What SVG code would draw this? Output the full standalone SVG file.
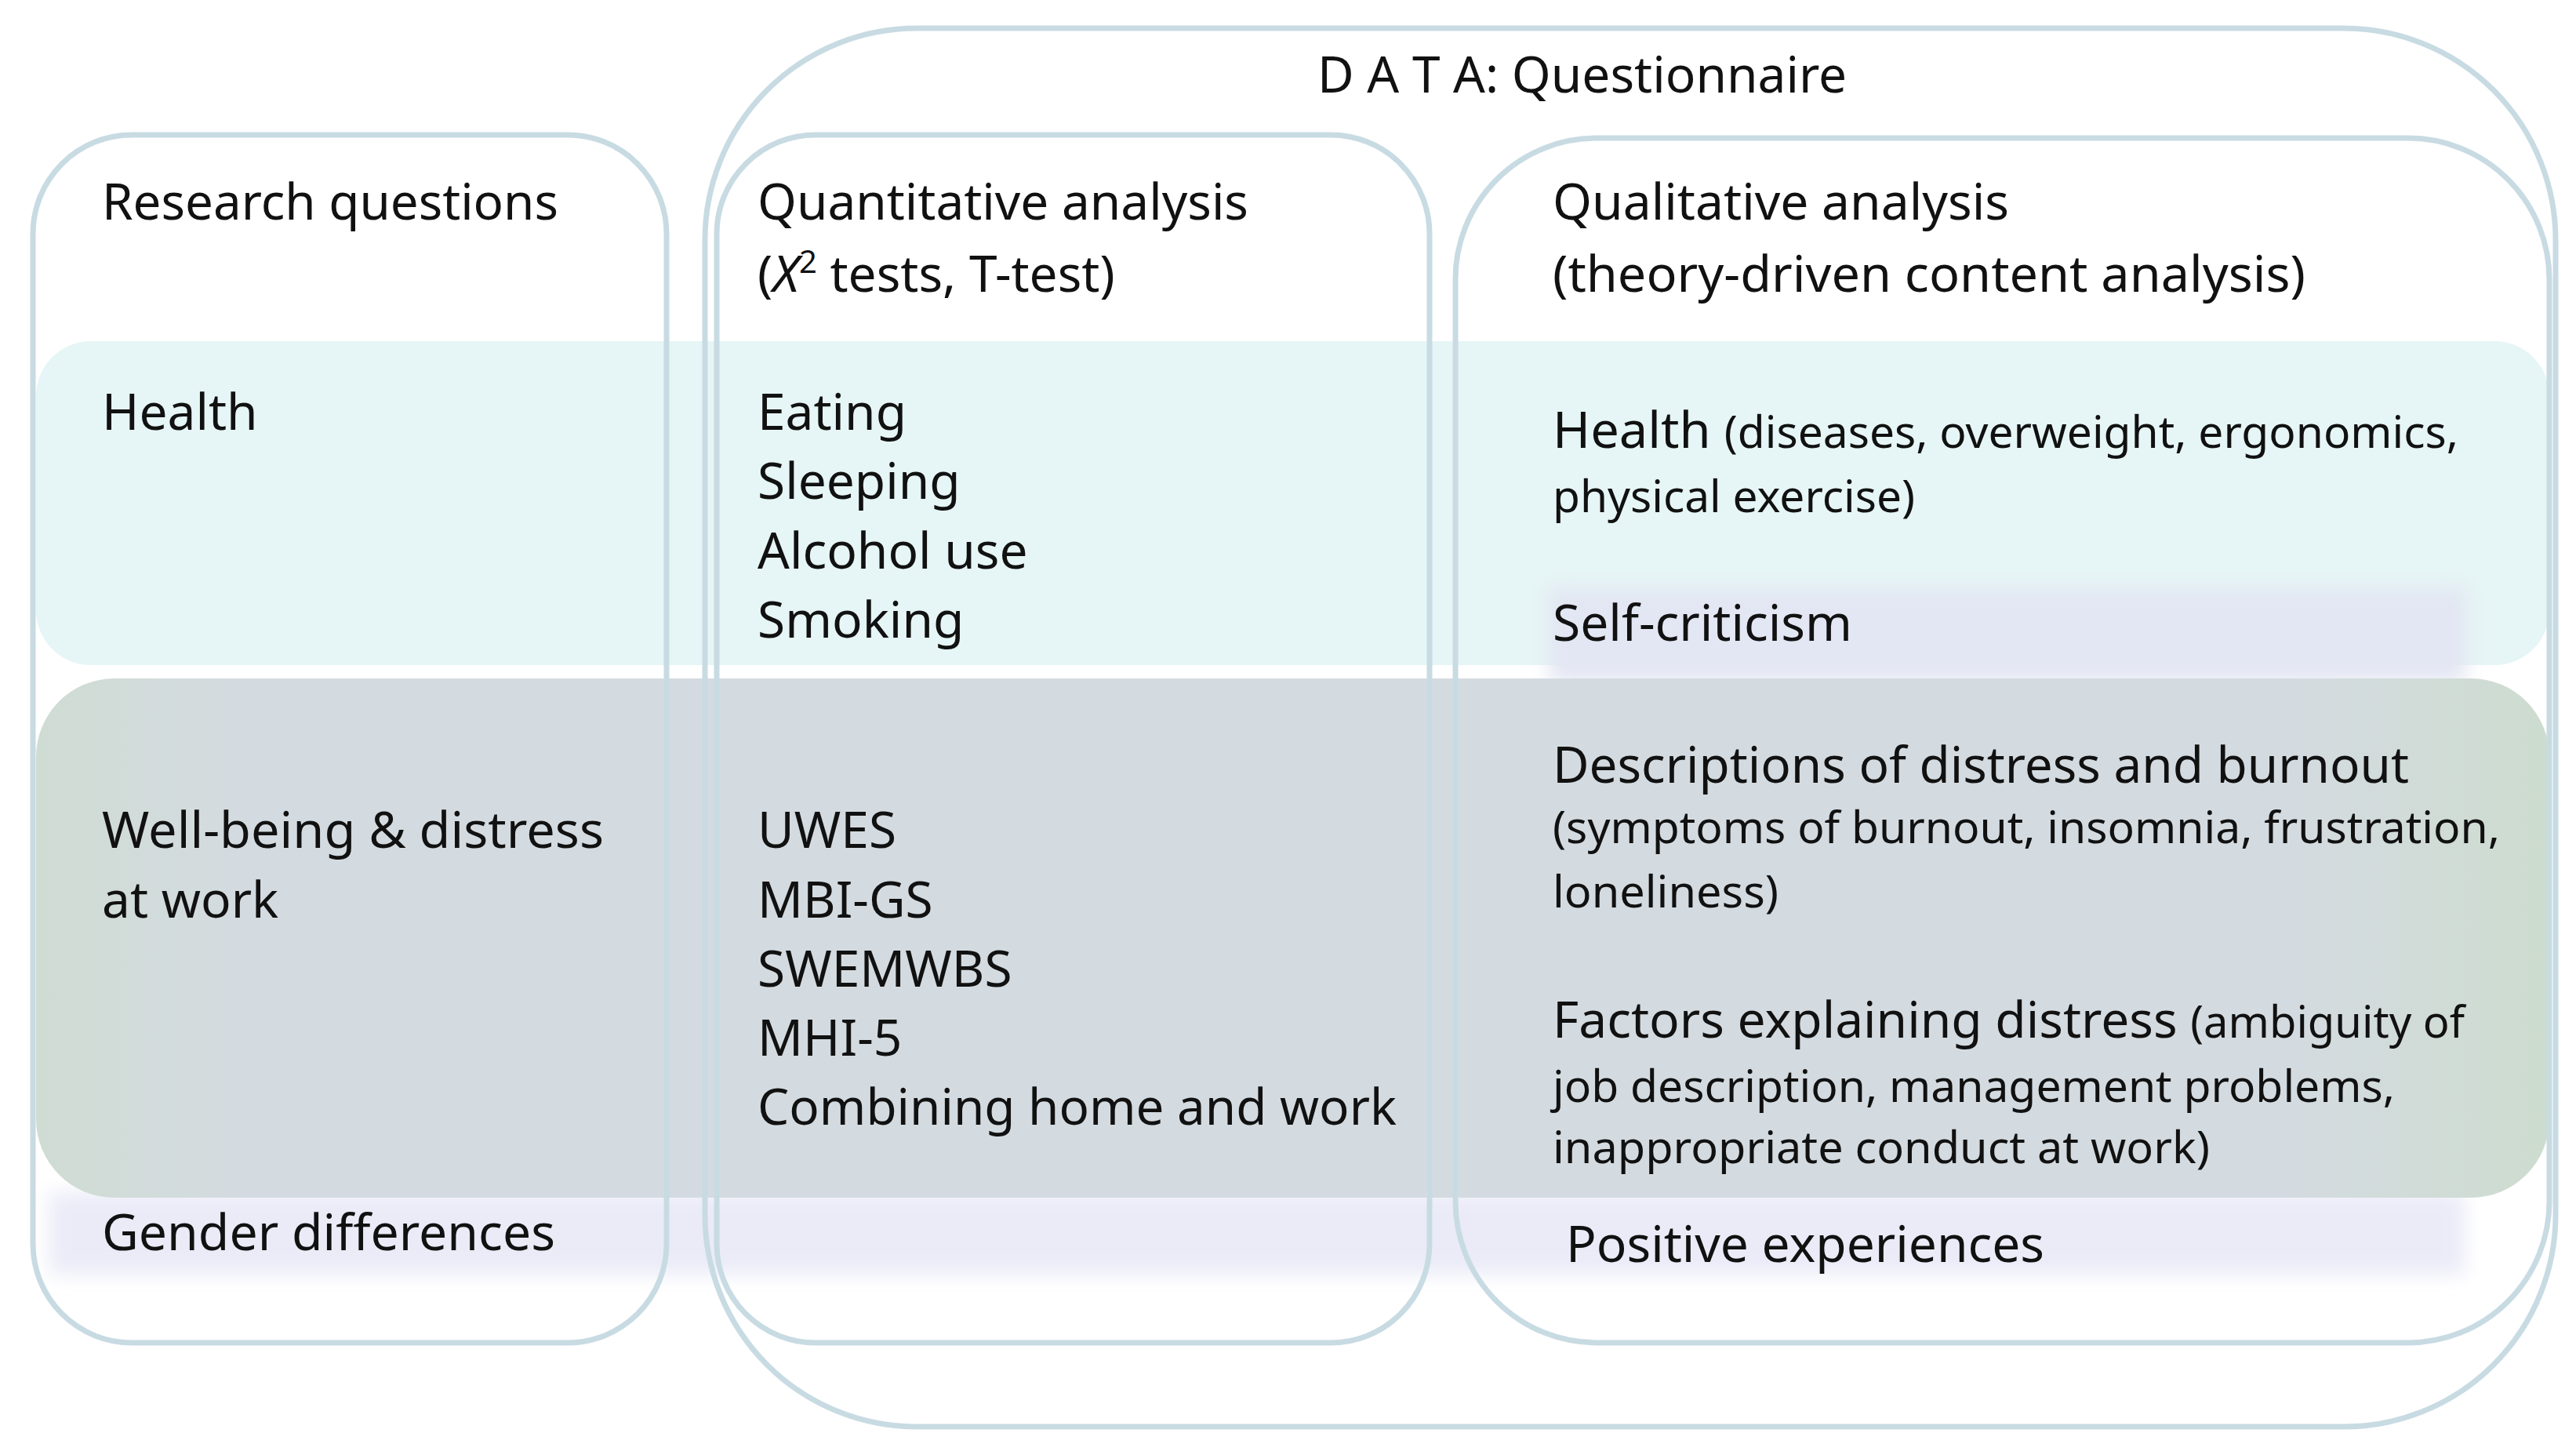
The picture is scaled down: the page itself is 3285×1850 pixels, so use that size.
<svg xmlns="http://www.w3.org/2000/svg" width="3285" height="1850" viewBox="0 0 3285 1850">
<defs>
<filter id="blur" x="-5%" y="-50%" width="110%" height="200%"><feGaussianBlur stdDeviation="12"/></filter>
<linearGradient id="green" x1="0" y1="0" x2="1" y2="0">
<stop offset="0" stop-color="#cfdcd3"/><stop offset="0.08" stop-color="#d4dbe0"/><stop offset="0.9" stop-color="#d4dbe0"/><stop offset="1" stop-color="#cddccf"/>
</linearGradient>
</defs>
<style>
.box{fill:none;stroke:#c8dbe3;stroke-width:7}
text{font-family:"Noto Sans","Open Sans","DejaVu Sans",sans-serif;font-size:64px;fill:#111}
.s{font-size:56px}
</style>
<rect width="3285" height="1850" fill="#fff"/>
<g id="bands">
<rect x="46" y="435" width="3205" height="413" rx="70" fill="#e6f5f5"/>
<rect x="1975" y="750" width="1170" height="120" fill="#e3e6f3" filter="url(#blur)"/>
<rect x="63" y="1520" width="3080" height="105" fill="#eaebf7" filter="url(#blur)"/>
<rect x="46" y="865" width="3205" height="662" rx="100" fill="url(#green)"/>
</g>
<g id="data">
<rect class="box" x="899" y="36" width="2360" height="1783" rx="270"/>
<text x="1680" y="118">D A T A: Questionnaire</text>
</g>
<g id="research">
<rect class="box" x="42" y="172" width="808" height="1540" rx="126"/>
<text x="130" y="280" textLength="582" lengthAdjust="spacingAndGlyphs">Research questions</text>
<text x="130" y="548">Health</text>
<text x="130" y="1081" textLength="640" lengthAdjust="spacingAndGlyphs">Well-being &amp; distress</text>
<text x="130" y="1170">at work</text>
<text x="130" y="1594" textLength="578" lengthAdjust="spacingAndGlyphs">Gender differences</text>
</g>
<g id="quant">
<rect class="box" x="914" y="172" width="909" height="1540" rx="126"/>
<text x="966" y="280" textLength="626" lengthAdjust="spacingAndGlyphs">Quantitative analysis</text>
<text x="966" y="372">(<tspan font-style="italic">X</tspan><tspan font-size="40" dy="-24">2</tspan><tspan dy="24"> tests, T-test)</tspan></text>
<text x="966" y="548">Eating</text>
<text x="966" y="636">Sleeping</text>
<text x="966" y="725">Alcohol use</text>
<text x="966" y="813">Smoking</text>
<text x="966" y="1081">UWES</text>
<text x="966" y="1170">MBI-GS</text>
<text x="966" y="1258">SWEMWBS</text>
<text x="966" y="1346">MHI-5</text>
<text x="966" y="1434" textLength="815" lengthAdjust="spacingAndGlyphs">Combining home and work</text>
</g>
<g id="qual">
<rect class="box" x="1856" y="176" width="1395" height="1536" rx="180"/>
<text x="1980" y="280" textLength="582" lengthAdjust="spacingAndGlyphs">Qualitative analysis</text>
<text x="1980" y="372" textLength="960" lengthAdjust="spacingAndGlyphs">(theory-driven content analysis)</text>
<text x="1980" y="571" textLength="1155" lengthAdjust="spacingAndGlyphs">Health <tspan class="s">(diseases, overweight, ergonomics,</tspan></text>
<text class="s" x="1980" y="653" textLength="462" lengthAdjust="spacingAndGlyphs">physical exercise)</text>
<text x="1980" y="817" textLength="382" lengthAdjust="spacingAndGlyphs">Self-criticism</text>
<text x="1980" y="998" textLength="1092" lengthAdjust="spacingAndGlyphs">Descriptions of distress and burnout</text>
<text class="s" x="1980" y="1075" textLength="1208" lengthAdjust="spacingAndGlyphs">(symptoms of burnout, insomnia, frustration,</text>
<text class="s" x="1980" y="1157" textLength="288" lengthAdjust="spacingAndGlyphs">loneliness)</text>
<text x="1980" y="1323" textLength="1163" lengthAdjust="spacingAndGlyphs">Factors explaining distress <tspan class="s">(ambiguity of</tspan></text>
<text class="s" x="1980" y="1405" textLength="1074" lengthAdjust="spacingAndGlyphs">job description, management problems,</text>
<text class="s" x="1980" y="1483" textLength="838" lengthAdjust="spacingAndGlyphs">inappropriate conduct at work)</text>
<text x="1997" y="1609" textLength="610" lengthAdjust="spacingAndGlyphs">Positive experiences</text>
</g>
<g id="connectors"/>
</svg>
